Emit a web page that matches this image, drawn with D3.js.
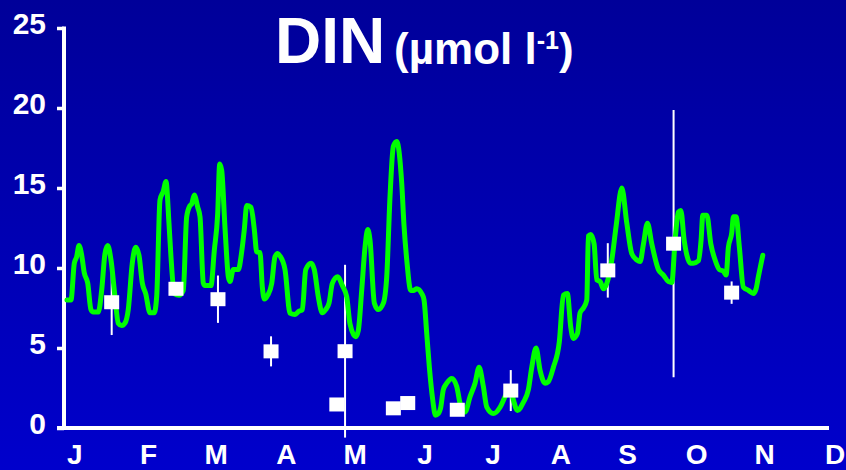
<!DOCTYPE html>
<html>
<head>
<meta charset="utf-8">
<script src="https://cdn.jsdelivr.net/npm/d3@7"></script>
<style>
  html, body { margin: 0; padding: 0; background: #0000cc; }
  svg { display: block; }
  text { font-family: "Liberation Sans", Arial, Helvetica, sans-serif; font-weight: bold; fill: #fff; }
</style>
</head>
<body>
<svg id="chart" width="846" height="470"></svg>
<script>
// Month labels along the bottom axis (with their positions in months from January)
const monthLabels = ["J", "F", "M", "A", "M", "J", "J", "A", "S", "O", "N", "D"];
const monthLabelPos = [0, 1.065, 2.046, 3.059, 4.057, 5.068, 6.05, 7.033, 8.0, 8.997, 9.981, 11.0];
// Value ticks on the left
const yTicks = [0, 5, 10, 15, 20, 25];

// Modelled DIN time series: position in months from January, concentration (µmol l-1)
const lineMonth = [
  -0.107, -0.049, -0.001, 0.033, 0.067, 0.106, 0.143, 0.193, 0.240, 0.274, 0.346, 0.395,
  0.443, 0.482, 0.530, 0.588, 0.635, 0.685, 0.732, 0.780, 0.838, 0.887, 0.935, 0.983,
  1.032, 1.094, 1.156, 1.191, 1.239, 1.287, 1.326, 1.369, 1.398, 1.446, 1.514, 1.576,
  1.625, 1.673, 1.697, 1.735, 1.785, 1.818, 1.866, 1.890, 1.977, 2.025, 2.074, 2.103,
  2.132, 2.180, 2.228, 2.252, 2.300, 2.372, 2.421, 2.459, 2.494, 2.556, 2.604, 2.639,
  2.686, 2.720, 2.749, 2.798, 2.856, 2.903, 2.943, 2.976, 3.048, 3.121, 3.193, 3.251,
  3.299, 3.348, 3.425, 3.472, 3.530, 3.588, 3.637, 3.685, 3.733, 3.811, 3.878, 3.941,
  3.989, 4.071, 4.109, 4.158, 4.206, 4.245, 4.278, 4.341, 4.399, 4.471, 4.520, 4.568,
  4.616, 4.665, 4.737, 4.771, 4.810, 4.868, 4.906, 4.955, 5.027, 5.060, 5.099, 5.137,
  5.186, 5.224, 5.267, 5.302, 5.339, 5.389, 5.461, 5.533, 5.581, 5.653, 5.726, 5.798,
  5.856, 5.918, 5.968, 6.063, 6.160, 6.232, 6.305, 6.353, 6.411, 6.497, 6.570, 6.619,
  6.681, 6.739, 6.811, 6.859, 6.932, 7.018, 7.076, 7.134, 7.183, 7.221, 7.279, 7.318,
  7.366, 7.415, 7.438, 7.473, 7.521, 7.560, 7.608, 7.656, 7.705, 7.777, 7.839, 7.922,
  7.994, 8.066, 8.139, 8.187, 8.235, 8.293, 8.356, 8.452, 8.524, 8.596, 8.646, 8.693,
  8.741, 8.776, 8.824, 8.863, 8.911, 8.958, 9.031, 9.069, 9.094, 9.152, 9.210, 9.272,
  9.334, 9.392, 9.431, 9.464, 9.513, 9.537, 9.576, 9.623, 9.681, 9.754, 9.826, 9.865,
  9.898, 9.962
];
const lineValue = [
  8.0, 8.0, 10.3, 10.7, 11.4, 10.8, 9.7, 9.06, 7.4, 7.25, 7.25, 8.6,
  10.9, 11.4, 10.5, 8.2, 6.55, 6.4, 6.55, 7.4, 10.3, 11.3, 10.8, 9.06,
  8.4, 7.2, 7.2, 8.2, 14.25, 14.8, 15.4, 12.8, 10.7, 8.4, 8.3, 8.6,
  13.2, 13.9, 14.0, 14.56, 13.8, 13.2, 9.06, 8.9, 8.9, 11.1, 13.4, 16.5,
  16.1, 12.5, 9.45, 9.15, 9.9, 9.9, 11.0, 12.4, 13.9, 13.8, 12.4, 11.0,
  10.96, 8.8, 8.06, 8.3, 9.04, 10.7, 10.9, 10.75, 9.9, 7.17, 7.1, 7.3,
  7.4, 9.9, 10.3, 9.9, 8.2, 7.2, 7.4, 7.8, 9.04, 9.45, 8.9, 8.2,
  6.5, 5.7, 6.1, 8.6, 11.3, 12.4, 11.75, 7.8, 7.4, 7.8, 9.45, 14.5,
  17.6, 17.9, 15.3, 12.6, 10.5, 8.6, 8.6, 8.7, 8.4, 8.0, 5.9, 3.8,
  1.75, 0.8, 0.9, 1.3, 2.4, 2.8, 3.1, 2.6, 1.55, 1.0, 1.96, 2.8,
  3.8, 2.6, 1.3, 0.9, 1.3, 1.96, 2.6, 1.75, 1.1, 1.6, 2.4, 3.8,
  5.0, 3.6, 2.8, 2.9, 3.8, 5.4, 8.3, 8.4, 6.3, 5.6, 5.9, 7.2,
  7.5, 8.0, 12.0, 12.1, 11.5, 9.25, 9.15, 8.7, 9.04, 10.5, 12.6, 15.0,
  12.8, 10.9, 10.5, 10.4, 11.5, 12.8, 11.5, 9.9, 9.56, 9.15, 9.1, 11.75,
  13.5, 13.6, 11.75, 10.8, 10.3, 10.3, 10.45, 11.75, 13.3, 13.3, 11.5, 10.5,
  9.9, 9.8, 9.56, 11.3, 12.2, 13.2, 13.2, 11.3, 8.8, 8.6, 8.4, 8.7,
  9.45, 10.8
];

// Field observations: month position, mean and error half-range (0 = no bar)
const obsMonth = [0.54, 1.47, 2.078, 2.846, 3.917, 3.798, 4.616, 4.824, 5.541, 6.315, 7.719, 8.671, 9.511];
const obsValue = [7.86, 8.7, 8.05, 4.79, 4.8, 1.47, 1.23, 1.56, 1.14, 2.34, 9.85, 11.52, 8.46];
const obsError = [2.05, 0, 1.48, 0.94, 5.4, 0, 0, 0, 0, 1.28, 1.7, 8.35, 0.7];

const svg = d3.select("#chart");
const W = 846, H = 470;

// Slide background: vertical blue gradient
const defs = svg.append("defs");
const grad = defs.append("linearGradient").attr("id", "bg").attr("x1", 0).attr("y1", 0).attr("x2", 0).attr("y2", 1);
grad.append("stop").attr("offset", "0%").attr("stop-color", "#000099");
grad.append("stop").attr("offset", "100%").attr("stop-color", "#0000cc");
svg.append("rect").attr("width", W).attr("height", H).attr("fill", "url(#bg)");

const x = d3.scaleLinear().domain([-0.15, 10.92]).range([64, 829]);
const y = d3.scaleLinear().domain([0, 25]).range([428, 28]);

// Y axis
const yAxis = svg.append("g").attr("transform", `translate(${x(-0.15)},0)`)
  .call(d3.axisLeft(y).tickValues(yTicks).tickSize(7).tickSizeOuter(0).tickPadding(11));
yAxis.select(".domain").remove();
yAxis.selectAll(".tick line").attr("stroke", "#fff").attr("stroke-width", 3.5);
yAxis.selectAll(".tick text")
  .attr("dy", 5.5).attr("font-size", 30).attr("font-family", null).attr("fill", "#fff");
yAxis.append("line").attr("x1", 0).attr("x2", 0).attr("y1", y(25) - 1.5).attr("y2", y(0) + 2)
  .attr("stroke", "#fff").attr("stroke-width", 4);

// X axis: baseline and month labels
svg.append("line")
  .attr("x1", x(-0.15) - 7).attr("x2", x(10.92))
  .attr("y1", y(0)).attr("y2", y(0))
  .attr("stroke", "#fff").attr("stroke-width", 4);
const xAxis = svg.append("g").attr("transform", `translate(0,${y(0)})`)
  .call(d3.axisBottom(x).tickValues(monthLabelPos)
    .tickFormat((d, i) => monthLabels[i]).tickSize(0).tickPadding(0));
xAxis.select(".domain").remove();
xAxis.selectAll(".tick text")
  .attr("y", 36).attr("dy", 0).attr("font-size", 28).attr("font-family", null).attr("fill", "#fff");

// Error bars
const obs = obsMonth.map((m, i) => ({ m, v: obsValue[i], e: obsError[i] }));
svg.append("g").selectAll("line").data(obs.filter(d => d.e > 0)).join("line")
  .attr("x1", d => x(d.m)).attr("x2", d => x(d.m))
  .attr("y1", d => y(d.v + d.e)).attr("y2", d => y(d.v - d.e))
  .attr("stroke", "#fff").attr("stroke-width", 2);

// Model line
const series = lineMonth.map((m, i) => [m, lineValue[i]]);
svg.append("path").datum(series)
  .attr("fill", "none").attr("stroke", "#00ff00").attr("stroke-width", 5)
  .attr("stroke-linejoin", "round").attr("stroke-linecap", "round")
  .attr("d", d3.line().x(d => x(d[0])).y(d => y(d[1])).curve(d3.curveMonotoneX));

// Observation markers
const sqW = 15, sqH = 14;
svg.append("g").selectAll("rect").data(obs).join("rect")
  .attr("x", d => x(d.m) - sqW / 2).attr("y", d => y(d.v) - sqH / 2)
  .attr("width", sqW).attr("height", sqH).attr("fill", "#fff");

// Title
svg.append("text").attr("x", 275).attr("y", 63).attr("font-size", 64).text("DIN");
const sub = svg.append("text").attr("x", 394).attr("y", 64).attr("font-size", 44);
sub.append("tspan").text("(µmol l");
sub.append("tspan").attr("font-size", 25).attr("dy", -15).text("-1");
sub.append("tspan").attr("dy", 15).text(")");
</script>
</body>
</html>
